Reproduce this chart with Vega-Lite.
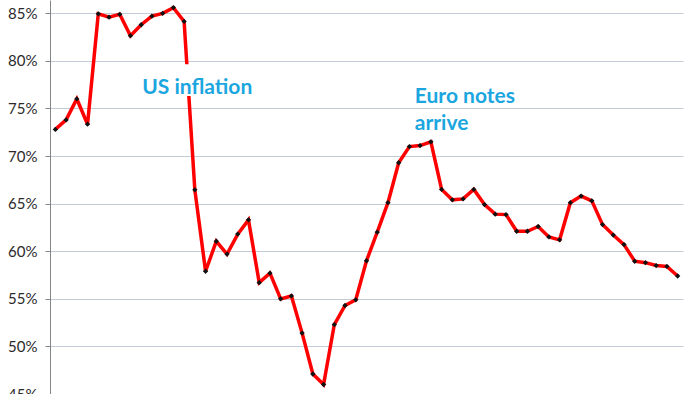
{
  "$schema": "https://vega.github.io/schema/vega-lite/v6.json",
  "autosize": {"type": "none"},
  "width": 633,
  "height": 394,
  "padding": {"left": 50, "top": 0, "right": 17, "bottom": 0},
  "background": "white",
  "config": {"view": {"stroke": null}},
  "datasets": {
    "series": [
      {"year": 1966, "share": 72.8}, {"year": 1967, "share": 73.8}, {"year": 1968, "share": 76.0}, {"year": 1969, "share": 73.35},
      {"year": 1970, "share": 84.95}, {"year": 1971, "share": 84.6}, {"year": 1972, "share": 84.9}, {"year": 1973, "share": 82.65},
      {"year": 1974, "share": 83.8}, {"year": 1975, "share": 84.7}, {"year": 1976, "share": 85.0}, {"year": 1977, "share": 85.6},
      {"year": 1978, "share": 84.15}, {"year": 1979, "share": 66.45}, {"year": 1980, "share": 57.9}, {"year": 1981, "share": 61.05},
      {"year": 1982, "share": 59.7}, {"year": 1983, "share": 61.8}, {"year": 1984, "share": 63.3}, {"year": 1985, "share": 56.7},
      {"year": 1986, "share": 57.7}, {"year": 1987, "share": 55.0}, {"year": 1988, "share": 55.3}, {"year": 1989, "share": 51.4},
      {"year": 1990, "share": 47.1}, {"year": 1991, "share": 46.0}, {"year": 1992, "share": 52.3}, {"year": 1993, "share": 54.3},
      {"year": 1994, "share": 54.9}, {"year": 1995, "share": 59.0}, {"year": 1996, "share": 62.0}, {"year": 1997, "share": 65.1},
      {"year": 1998, "share": 69.3}, {"year": 1999, "share": 71.0}, {"year": 2000, "share": 71.1}, {"year": 2001, "share": 71.5},
      {"year": 2002, "share": 66.5}, {"year": 2003, "share": 65.4}, {"year": 2004, "share": 65.5}, {"year": 2005, "share": 66.5},
      {"year": 2006, "share": 64.9}, {"year": 2007, "share": 63.9}, {"year": 2008, "share": 63.85}, {"year": 2009, "share": 62.1},
      {"year": 2010, "share": 62.1}, {"year": 2011, "share": 62.6}, {"year": 2012, "share": 61.5}, {"year": 2013, "share": 61.2},
      {"year": 2014, "share": 65.1}, {"year": 2015, "share": 65.8}, {"year": 2016, "share": 65.3}, {"year": 2017, "share": 62.8},
      {"year": 2018, "share": 61.7}, {"year": 2019, "share": 60.7}, {"year": 2020, "share": 58.95}, {"year": 2021, "share": 58.8},
      {"year": 2022, "share": 58.5}, {"year": 2023, "share": 58.4}, {"year": 2024, "share": 57.4}
    ],
    "boxes": [
      {"x1": 1973.5, "x2": 1984.5, "y1": 76.3, "y2": 79.65}
    ],
    "notes": [
      {"label": "US inflation", "year": 1974.1, "share": 76.5},
      {"label": "Euro notes", "year": 1999.5, "share": 75.55},
      {"label": "arrive", "year": 1999.5, "share": 72.75}
    ]
  },
  "layer": [
    {
      "data": {"name": "series"},
      "mark": {"type": "line", "color": "#FF0000", "strokeWidth": 3.5, "clip": true},
      "encoding": {
        "x": {"field": "year", "type": "quantitative", "scale": {"domain": [1965.5, 2024.5], "nice": false, "zero": false}, "axis": null},
        "y": {
          "field": "share", "type": "quantitative",
          "scale": {"domain": [45, 86.4], "nice": false, "zero": false},
          "axis": {
            "title": null,
            "values": [45, 50, 55, 60, 65, 70, 75, 80, 85],
            "labelExpr": "datum.value + '%'",
            "labelFont": "Lato",
            "labelFontSize": 15,
            "labelColor": "#2B2B2B",
            "labelPadding": 8,
            "tickSize": 5,
            "tickColor": "#868686",
            "domainColor": "#868686",
            "domainWidth": 1,
            "grid": true,
            "gridColor": "#C3CBD6",
            "gridWidth": 1
          }
        }
      }
    },
    {
      "data": {"name": "series"},
      "mark": {"type": "point", "shape": "diamond", "filled": true, "color": "#111111", "size": 28, "opacity": 1, "clip": true},
      "encoding": {
        "x": {"field": "year", "type": "quantitative"},
        "y": {"field": "share", "type": "quantitative"}
      }
    },
    {
      "data": {"name": "boxes"},
      "mark": {"type": "rect", "fill": "white", "stroke": null},
      "encoding": {
        "x": {"field": "x1", "type": "quantitative"},
        "x2": {"field": "x2"},
        "y": {"field": "y1", "type": "quantitative"},
        "y2": {"field": "y2"}
      }
    },
    {
      "data": {"name": "notes"},
      "mark": {"type": "text", "align": "left", "baseline": "alphabetic", "font": "Lato", "fontWeight": "bold", "fontSize": 21, "color": "#1BA6E0"},
      "encoding": {
        "x": {"field": "year", "type": "quantitative"},
        "y": {"field": "share", "type": "quantitative"},
        "text": {"field": "label"}
      }
    }
  ]
}
